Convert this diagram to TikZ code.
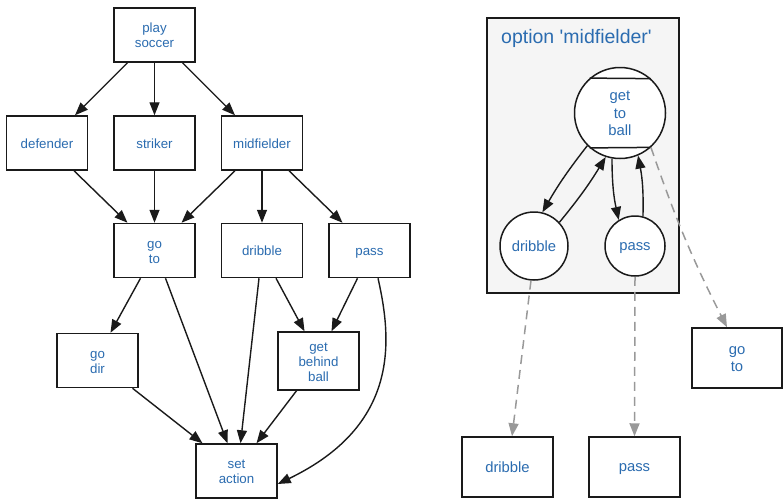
\documentclass[tikz,border=0pt]{standalone}
\usepackage{fontspec}
\setmainfont{Liberation Sans}
\usetikzlibrary{arrows.meta,calc}
\definecolor{txtblue}{HTML}{2B6CB0}
\definecolor{clfill}{HTML}{F5F5F5}
\definecolor{edgegray}{HTML}{999999}
\definecolor{lncol}{HTML}{1A1A1A}
\newcommand\lstr{\rule[-2pt]{0pt}{14pt}}
\newcommand\rstr{\rule[-2.2pt]{0pt}{15pt}}
\tikzset{
  box/.style={draw=lncol,line width=1.5pt,fill=white,minimum width=81pt,minimum height=54pt,inner sep=0pt,
    align=center,text=txtblue,font=\fontsize{13.3}{15}\selectfont},
  rbox/.style={box,minimum width=91pt,minimum height=60pt,font=\fontsize{14.8}{17}\selectfont},
  circ/.style={draw=lncol,line width=1.5pt,fill=white,circle,inner sep=0pt,
    align=center,text=txtblue,font=\fontsize{14.8}{17.5}\selectfont},
  edge/.style={draw=lncol,line width=1.4pt,-{Triangle[length=13pt,width=10pt]}},
  dedge/.style={draw=edgegray,line width=1.5pt,dash pattern=on 9pt off 6pt,-{Triangle[length=13pt,width=10pt]}},
}
\begin{document}
\begin{tikzpicture}[x=1pt,y=-1pt]
\useasboundingbox (0,0) rectangle (783,499);
% left graph
\node[box] (ps) at (154.5,35) {\lstr play\\\lstr soccer};
\node[box] (def) at (47,143) {\lstr defender};
\node[box] (str) at (154.5,143) {\lstr striker};
\node[box] (mid) at (262,143) {\lstr midfielder};
\node[box] (gt) at (154.5,250.5) {\lstr go\\\lstr to};
\node[box] (dr) at (262,250.5) {\lstr dribble};
\node[box] (pa) at (369.5,250.5) {\lstr pass};
\node[box] (gd) at (97.5,360.5) {\lstr go\\\lstr dir};
\node[box,minimum height=58pt] (gb) at (318.5,361) {\lstr get\\\lstr behind\\\lstr ball};
\node[box] (sa) at (236.5,471) {\lstr set\\\lstr action};

\draw[edge] ([xshift=-27pt]ps.south) -- ([xshift=28pt]def.north);
\draw[edge] (ps.south) -- (str.north);
\draw[edge] ([xshift=28pt]ps.south) -- ([xshift=-27pt]mid.north);
\draw[edge] ([xshift=27pt]def.south) -- ([xshift=-27pt]gt.north);
\draw[edge] (str.south) -- (gt.north);
\draw[edge] ([xshift=-27pt]mid.south) -- ([xshift=27pt]gt.north);
\draw[edge] (mid.south) -- (dr.north);
\draw[edge] ([xshift=27pt]mid.south) -- ([xshift=-27pt]pa.north);
\draw[edge] ([xshift=-14pt]gt.south) -- ([xshift=13pt]gd.north);
\draw[edge] ([xshift=11pt]gt.south) -- ([xshift=-9pt]sa.north);
\draw[edge] ([xshift=-3pt]dr.south) -- ([xshift=4pt]sa.north);
\draw[edge] ([xshift=14pt]dr.south) -- ([xshift=-14pt]gb.north);
\draw[edge] ([xshift=-12pt]pa.south) -- ([xshift=13pt]gb.north);
\draw[edge] ([xshift=8.5pt]pa.south) .. controls (392,340) and (400,425) .. ([yshift=-13pt]sa.east);
\draw[edge] ([xshift=35pt]gd.south) -- ([xshift=-34pt]sa.north);
\draw[edge] ([xshift=-22pt]gb.south) -- ([xshift=20pt]sa.north);

% cluster
\node[draw=lncol,line width=1.5pt,fill=clfill,minimum width=192pt,minimum height=275pt,inner sep=0pt] (cl) at (583,155.5) {};
\node[anchor=west,text=txtblue,font=\fontsize{19.5}{22}\selectfont,inner sep=0pt] (ttl) at (501,38) {option \textquotesingle midfielder\textquotesingle};
\node[circ,minimum size=91pt] (gtb) at (620,113) {\rstr get\\\rstr to\\\rstr ball};
\draw[lncol,line width=1.5pt] (gtb.131.6) -- (gtb.48.4);
\draw[lncol,line width=1.5pt] (gtb.-131.6) -- (gtb.-48.4);
\node[circ,minimum size=68pt] (dc) at (534,246) {\rstr dribble};
\node[circ,minimum size=60pt] (pc) at (635,246) {\rstr pass};

\draw[edge] (gtb.225) to[bend right=4] (dc.76);
\draw[edge] (dc.43) to[bend right=4] (gtb.252);
\draw[edge] (gtb.260) to[bend right=6] (pc.122);
\draw[edge] (pc.75) to[bend right=6] (gtb.293);

% outside nodes
\node[rbox] (db) at (507.5,467) {\rstr dribble};
\node[rbox] (pb) at (634.5,467) {\rstr pass};
\node[rbox,minimum width=90pt] (gob) at (737,358) {\rstr go\\\rstr to};

\draw[dedge] (dc.265) -- ([xshift=4.5pt]db.north);
\draw[dedge] (pc.south) -- (pb.north);
\draw[dedge] (gtb.-48.4) to[bend right=4] ([xshift=-10pt]gob.north);
\end{tikzpicture}
\end{document}
